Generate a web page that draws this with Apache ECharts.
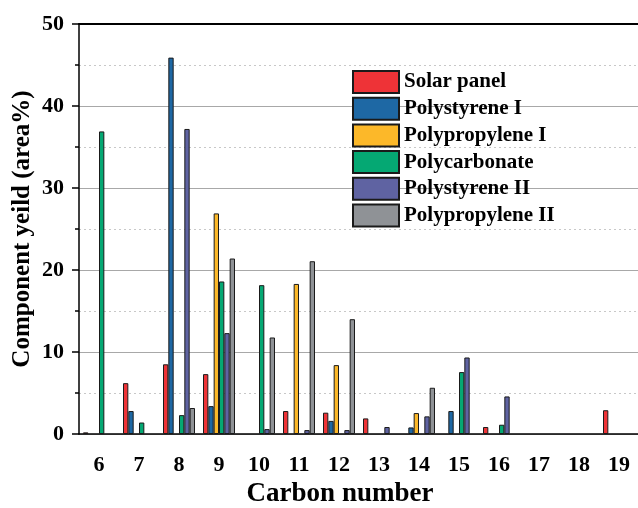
<!DOCTYPE html>
<html>
<head>
<meta charset="utf-8">
<script src="https://cdn.jsdelivr.net/npm/echarts@6/dist/echarts.min.js"></script>
<style>html,body{margin:0;padding:0;background:#fff;}#c{width:638px;height:508px;}</style>
</head>
<body>
<div id="c"></div>
<script>
const categories = ['6','7','8','9','10','11','12','13','14','15','16','17','18','19'];
const solarPanel      = [0.2, 6.2, 8.5, 7.3, null, 2.8, 2.6, 1.9, null, null, 0.85, null, null, 2.9];
const polystyreneI    = [null, 2.8, 45.9, 3.4, null, null, 1.6, null, 0.8, 2.8, null, null, null, null];
const polypropyleneI  = [null, null, null, 26.9, null, 18.3, 8.4, null, 2.55, null, null, null, null, null];
const polycarbonate   = [36.9, 1.4, 2.3, 18.6, 18.15, null, null, null, null, 7.55, 1.13, null, null, null];
const polystyreneII   = [null, null, 37.2, 12.3, 0.6, 0.48, 0.48, 0.85, 2.15, 9.33, 4.58, null, null, null];
const polypropyleneII = [null, null, 3.17, 21.4, 11.77, 21.07, 14.0, null, 5.64, null, null, null, null, null];
const yTicks = [0, 10, 20, 30, 40, 50];

const seriesDefs = [
  ['Solar panel', solarPanel, '#EE3337'],
  ['Polystyrene I', polystyreneI, '#1E68A4'],
  ['Polypropylene I', polypropyleneI, '#FCB829'],
  ['Polycarbonate', polycarbonate, '#05A873'],
  ['Polystyrene II', polystyreneII, '#5F63A2'],
  ['Polypropylene II', polypropyleneII, '#8F9296']
];
const serif = '"Liberation Serif", "DejaVu Serif", serif';

const chart = echarts.init(document.getElementById('c'));
chart.setOption({
  animation: false,
  backgroundColor: '#fff',
  grid: { left: 79, top: 24, width: 560, height: 410, containLabel: false, outerBoundsMode: 'none' },
  legend: {
    orient: 'vertical', left: 352, top: 70, padding: 0,
    itemWidth: 46, itemHeight: 22, itemGap: 2.7,
    icon: 'rect',
    textStyle: { fontFamily: serif, fontWeight: 'bold', fontSize: 21, lineHeight: 22, color: '#000' },
    data: seriesDefs.map(s => s[0])
  },
  xAxis: [
    {
      type: 'category', data: categories, position: 'bottom',
      axisLine: { lineStyle: { color: '#000', width: 1.5 } },
      axisTick: { alignWithLabel: true, length: 8, lineStyle: { color: '#000', width: 1.5 } },
      axisLabel: { margin: 20, fontFamily: serif, fontWeight: 'bold', fontSize: 22, color: '#000', interval: 0 },
      name: 'Carbon number', nameLocation: 'middle', nameGap: 47, nameMoveOverlap: false,
      nameTextStyle: { fontFamily: serif, fontWeight: 'bold', fontSize: 27, color: '#000', padding: [0, 38, 0, 0] }
    },
    {
      type: 'category', data: categories, position: 'bottom',
      axisLine: { show: false },
      axisTick: { alignWithLabel: false, length: 4, lineStyle: { color: '#000', width: 1.5 } },
      axisLabel: { show: false }
    },
    {
      type: 'category', data: categories, position: 'top',
      axisLine: { lineStyle: { color: '#000', width: 2 } },
      axisTick: { show: false },
      axisLabel: { show: false }
    }
  ],
  yAxis: {
    type: 'value', min: yTicks[0], max: yTicks[yTicks.length - 1], interval: 10,
    axisLine: { show: true, lineStyle: { color: '#000', width: 1.5 } },
    axisTick: { show: true, length: 7, lineStyle: { color: '#000', width: 1.5 } },
    minorTick: { show: true, splitNumber: 2, length: 4, lineStyle: { color: '#000', width: 1.5 } },
    splitLine: { show: true, lineStyle: { color: '#A8A8A8', width: 1.2 } },
    minorSplitLine: { show: true, lineStyle: { color: '#C8C8C8', width: 1, type: [2, 3] } },
    axisLabel: { margin: 15, fontFamily: serif, fontWeight: 'bold', fontSize: 22, color: '#000' },
    name: 'Component yeild (area%)', nameLocation: 'middle', nameGap: 44, nameMoveOverlap: false,
    nameTextStyle: { fontFamily: serif, fontWeight: 'bold', fontSize: 25, color: '#000' }
  },
  series: seriesDefs.map(s => ({
    name: s[0], type: 'bar', data: s[1], xAxisIndex: 0,
    barGap: '0%', barCategoryGap: '20%',
    itemStyle: { color: s[2], borderColor: '#1a1a1a', borderWidth: 1 }
  }))
});
</script>
</body>
</html>
